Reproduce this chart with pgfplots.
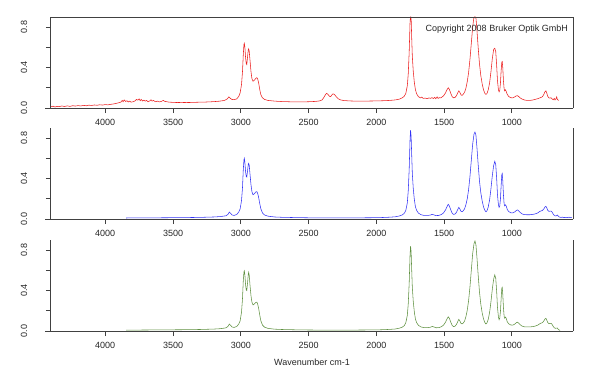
\documentclass[border=0pt]{standalone}
\usepackage{pgfplots}
\pgfplotsset{compat=1.18}
\usepackage{fontspec}
\setmainfont{Liberation Sans}
\definecolor{specred}{RGB}{235,30,30}
\definecolor{specblue}{RGB}{50,50,245}
\definecolor{specgreen}{RGB}{95,145,65}
\definecolor{axgray}{RGB}{65,65,65}

\pgfplotstableread{
x y
4400 0.012
4385 0.018
4370 0.010
4355 0.016
4340 0.013
4320 0.020
4300 0.015
4280 0.021
4260 0.016
4240 0.023
4220 0.019
4200 0.024
4180 0.020
4160 0.026
4140 0.022
4120 0.028
4100 0.025
4080 0.030
4060 0.027
4040 0.032
4020 0.029
4000 0.034
3980 0.031
3960 0.036
3940 0.040
3920 0.045
3900 0.052
3885 0.058
3875 0.075
3868 0.062
3860 0.080
3850 0.065
3840 0.072
3830 0.060
3820 0.068
3810 0.058
3795 0.062
3780 0.070
3770 0.085
3760 0.078
3750 0.090
3742 0.072
3735 0.085
3725 0.070
3715 0.078
3705 0.068
3695 0.075
3685 0.062
3672 0.070
3662 0.082
3655 0.068
3645 0.075
3630 0.062
3615 0.068
3600 0.060
3585 0.066
3572 0.075
3560 0.065
3545 0.062
3530 0.058
3500 0.056
3470 0.054
3440 0.055
3400 0.054
3360 0.055
3320 0.057
3280 0.058
3240 0.060
3200 0.063
3160 0.067
3120 0.075
3100 0.090
3088 0.110
3080 0.100
3068 0.085
3050 0.082
3030 0.090
3015 0.115
3005 0.150
2995 0.230
2988 0.350
2982 0.520
2977 0.630
2974 0.640
2970 0.600
2965 0.500
2960 0.440
2956 0.430
2950 0.510
2945 0.575
2942 0.585
2938 0.560
2932 0.470
2925 0.360
2918 0.290
2910 0.265
2900 0.275
2890 0.292
2882 0.300
2876 0.290
2868 0.245
2860 0.180
2852 0.130
2840 0.100
2825 0.085
2800 0.075
2750 0.068
2700 0.064
2650 0.062
2600 0.060
2550 0.060
2500 0.062
2450 0.065
2420 0.070
2400 0.080
2385 0.110
2375 0.135
2367 0.145
2358 0.135
2345 0.115
2337 0.112
2328 0.130
2320 0.140
2310 0.135
2295 0.110
2280 0.090
2265 0.080
2240 0.074
2200 0.070
2150 0.068
2100 0.068
2050 0.069
2000 0.070
1950 0.072
1900 0.075
1860 0.080
1830 0.088
1810 0.100
1795 0.115
1783 0.145
1772 0.220
1765 0.340
1758 0.560
1752 0.840
1749 0.900
1746 0.900
1743 0.860
1740 0.710
1735 0.510
1728 0.360
1720 0.250
1712 0.180
1703 0.140
1690 0.112
1675 0.100
1665 0.108
1655 0.095
1640 0.098
1625 0.092
1612 0.100
1600 0.095
1590 0.103
1580 0.094
1570 0.105
1562 0.092
1552 0.110
1545 0.095
1535 0.102
1525 0.100
1515 0.110
1505 0.120
1490 0.150
1480 0.180
1470 0.200
1462 0.185
1450 0.140
1440 0.110
1430 0.100
1420 0.105
1410 0.120
1400 0.150
1392 0.170
1385 0.155
1375 0.128
1368 0.125
1360 0.135
1350 0.155
1340 0.195
1330 0.260
1320 0.350
1310 0.480
1300 0.640
1290 0.800
1282 0.885
1277 0.900
1270 0.900
1265 0.880
1258 0.760
1250 0.610
1240 0.440
1230 0.320
1220 0.240
1210 0.180
1200 0.145
1192 0.135
1185 0.142
1175 0.180
1165 0.250
1155 0.360
1145 0.490
1135 0.580
1127 0.590
1120 0.560
1113 0.420
1107 0.270
1100 0.180
1095 0.160
1090 0.175
1085 0.250
1080 0.370
1075 0.455
1072 0.460
1068 0.400
1063 0.270
1058 0.190
1054 0.170
1048 0.180
1043 0.165
1035 0.135
1025 0.115
1010 0.102
995 0.100
980 0.110
968 0.120
960 0.122
952 0.115
940 0.100
925 0.088
910 0.080
890 0.075
870 0.075
850 0.078
830 0.085
810 0.092
795 0.100
785 0.105
775 0.112
765 0.135
757 0.160
750 0.170
744 0.150
736 0.115
728 0.100
720 0.098
712 0.102
704 0.090
696 0.082
688 0.095
683 0.080
676 0.090
670 0.110
666 0.085
660 0.078
655 0.075
}\redspec

\pgfplotstableread{
x y
3845 0.010
3800 0.011
3700 0.012
3600 0.012
3500 0.013
3400 0.014
3300 0.016
3200 0.020
3150 0.024
3110 0.032
3095 0.045
3085 0.068
3078 0.060
3065 0.040
3050 0.035
3030 0.045
3015 0.070
3005 0.100
2995 0.180
2988 0.300
2982 0.480
2977 0.585
2974 0.600
2970 0.560
2965 0.470
2960 0.420
2956 0.415
2950 0.480
2945 0.540
2942 0.550
2938 0.530
2932 0.440
2925 0.340
2918 0.270
2910 0.240
2900 0.250
2890 0.268
2882 0.270
2876 0.255
2868 0.210
2860 0.150
2852 0.100
2840 0.060
2825 0.040
2800 0.028
2750 0.020
2700 0.017
2600 0.014
2500 0.012
2400 0.011
2300 0.011
2200 0.011
2100 0.012
2000 0.013
1950 0.015
1900 0.018
1860 0.022
1830 0.030
1810 0.040
1795 0.055
1783 0.085
1772 0.160
1765 0.280
1758 0.500
1752 0.780
1748 0.880
1744 0.820
1740 0.650
1735 0.450
1728 0.300
1720 0.190
1712 0.120
1703 0.085
1690 0.058
1670 0.042
1650 0.036
1620 0.035
1600 0.040
1588 0.046
1578 0.042
1560 0.034
1540 0.035
1520 0.045
1505 0.060
1490 0.090
1480 0.120
1470 0.145
1462 0.130
1450 0.085
1440 0.055
1430 0.045
1420 0.050
1410 0.065
1400 0.095
1392 0.115
1385 0.100
1375 0.075
1368 0.072
1360 0.080
1350 0.100
1340 0.140
1330 0.200
1320 0.290
1310 0.420
1300 0.580
1290 0.740
1280 0.840
1273 0.860
1266 0.830
1258 0.700
1250 0.550
1240 0.380
1230 0.260
1220 0.180
1210 0.120
1200 0.085
1192 0.072
1185 0.080
1175 0.120
1165 0.190
1155 0.300
1145 0.430
1135 0.530
1127 0.570
1120 0.540
1113 0.400
1107 0.240
1100 0.140
1095 0.115
1090 0.130
1085 0.200
1080 0.330
1075 0.440
1072 0.450
1068 0.380
1063 0.240
1058 0.150
1054 0.130
1048 0.140
1043 0.130
1035 0.095
1025 0.075
1010 0.062
995 0.060
980 0.070
968 0.085
960 0.090
952 0.082
940 0.065
925 0.050
910 0.044
890 0.042
870 0.042
850 0.045
830 0.050
810 0.060
795 0.075
785 0.080
775 0.085
765 0.100
757 0.118
750 0.125
744 0.112
736 0.085
728 0.075
720 0.078
712 0.078
704 0.068
696 0.048
688 0.035
680 0.030
672 0.032
666 0.040
660 0.030
652 0.020
640 0.016
628 0.018
618 0.014
605 0.016
595 0.013
580 0.018
570 0.014
560 0.015
}\bluespec

\pgfplotstableread{
x y
3845 0.008
3800 0.009
3700 0.010
3600 0.011
3500 0.012
3400 0.013
3300 0.015
3200 0.019
3150 0.023
3110 0.031
3095 0.045
3085 0.068
3078 0.060
3065 0.040
3050 0.035
3030 0.045
3015 0.070
3005 0.100
2995 0.185
2988 0.310
2982 0.490
2977 0.585
2974 0.595
2970 0.555
2965 0.460
2960 0.405
2956 0.400
2950 0.480
2945 0.560
2942 0.580
2938 0.550
2932 0.450
2925 0.350
2918 0.285
2910 0.258
2900 0.268
2890 0.282
2882 0.285
2876 0.268
2868 0.220
2860 0.155
2852 0.100
2840 0.058
2825 0.038
2800 0.026
2750 0.018
2700 0.015
2600 0.012
2500 0.010
2400 0.009
2300 0.009
2200 0.009
2100 0.010
2000 0.011
1950 0.013
1900 0.016
1860 0.020
1830 0.028
1810 0.038
1795 0.052
1783 0.082
1772 0.155
1765 0.270
1758 0.480
1752 0.745
1748 0.840
1744 0.785
1740 0.620
1735 0.430
1728 0.290
1720 0.185
1712 0.118
1703 0.082
1690 0.056
1670 0.040
1650 0.034
1620 0.033
1600 0.038
1588 0.045
1578 0.041
1560 0.032
1540 0.033
1520 0.043
1505 0.058
1490 0.088
1480 0.118
1470 0.140
1462 0.126
1450 0.082
1440 0.053
1430 0.043
1420 0.048
1410 0.063
1400 0.093
1392 0.115
1385 0.100
1375 0.074
1368 0.070
1360 0.078
1350 0.098
1340 0.140
1330 0.205
1320 0.300
1310 0.435
1300 0.600
1290 0.765
1280 0.865
1273 0.890
1266 0.855
1258 0.720
1250 0.565
1240 0.390
1230 0.265
1220 0.180
1210 0.120
1200 0.083
1192 0.070
1185 0.078
1175 0.117
1165 0.185
1155 0.290
1145 0.415
1135 0.515
1127 0.555
1120 0.525
1113 0.390
1107 0.235
1100 0.138
1095 0.112
1090 0.127
1085 0.195
1080 0.320
1075 0.425
1072 0.432
1068 0.365
1063 0.232
1058 0.146
1054 0.127
1048 0.137
1043 0.127
1035 0.092
1025 0.072
1010 0.060
995 0.058
980 0.068
968 0.082
960 0.087
952 0.080
940 0.063
925 0.048
910 0.042
890 0.040
870 0.040
850 0.043
830 0.048
810 0.058
795 0.072
785 0.078
775 0.083
765 0.100
757 0.118
750 0.125
744 0.110
736 0.083
728 0.072
720 0.075
712 0.075
704 0.065
696 0.045
688 0.032
680 0.027
672 0.028
666 0.030
660 0.018
652 0.010
645 0.006
}\greenspec

\pgfplotsset{
  panel/.style={
    at={(51pt,#1)}, anchor=south west,
    scale only axis, width=522pt, height=91pt,
    xmin=550, xmax=4400, x dir=reverse, ymin=0, ymax=0.9,
    xtick={1000,1500,2000,2500,3000,3500,4000},
    ytick={0,0.2,0.4,0.6,0.8}, yticklabels={0.0,,0.4,,0.8},
    minor tick num=0,
    axis x line*=bottom, axis y line*=left,
    tick align=outside,
    major tick length=5pt,
    axis line style={draw=axgray, line width=1pt},
    tick style={draw=axgray, line width=1pt},
    every tick label/.append style={font=\fontsize{9}{10}\selectfont, text=black!85},
    /pgf/number format/assume math mode=true,
    scaled ticks=false,
    xticklabel style={/pgf/number format/1000 sep={}, yshift=-3pt},
    yticklabel style={rotate=90, anchor=center, yshift=22pt},
    clip=false,
  },
}
\newcommand{\paneldecor}{%
  \draw[axgray, line width=1pt] (axis cs:550,0) -- (axis cs:4400,0) -- ++(-6pt,0pt);
  \draw[axgray, line width=1pt] (axis cs:4400,0) -- (axis cs:4400,0.9);
  \draw[axgray, line width=1pt] (axis cs:550,0.9) -- (axis cs:550,0);
  \pgfplotsinvokeforeach{1000,1500,2000,2500,3000,3500,4000}{%
    \draw[axgray, line width=1pt] (axis cs:##1,0) -- ++(0pt,-5pt);}
  \pgfplotsinvokeforeach{0,0.2,0.4,0.6,0.8}{%
    \draw[axgray, line width=1pt] (axis cs:4400,##1) -- ++(-5pt,0pt);}
}

\begin{document}
\begin{tikzpicture}
\path[use as bounding box] (0pt,0pt) rectangle (600pt,376pt);

\begin{axis}[panel=268pt]
\addplot[specred, line width=0.55pt] table[x=x,y=y] {\redspec};
\paneldecor
\draw[axgray, line width=1pt] (axis cs:4400,0.9) -- (axis cs:550,0.9);
\node[anchor=base east, inner sep=0pt, font=\fontsize{9}{10}\selectfont, text=black!85] at (rel axis cs:0.9904,0.84) {Copyright 2008 Bruker Optik GmbH};
\end{axis}

\begin{axis}[panel=157pt]
\addplot[specblue, line width=0.55pt] table[x=x,y=y] {\bluespec};
\paneldecor
\end{axis}

\begin{axis}[panel=45pt,
  xlabel={Wavenumber cm-1}, xlabel style={font=\fontsize{9}{10}\selectfont, text=black!85, yshift=-3pt}]
\addplot[specgreen, line width=0.55pt] table[x=x,y=y] {\greenspec};
\paneldecor
\end{axis}
\end{tikzpicture}
\end{document}
